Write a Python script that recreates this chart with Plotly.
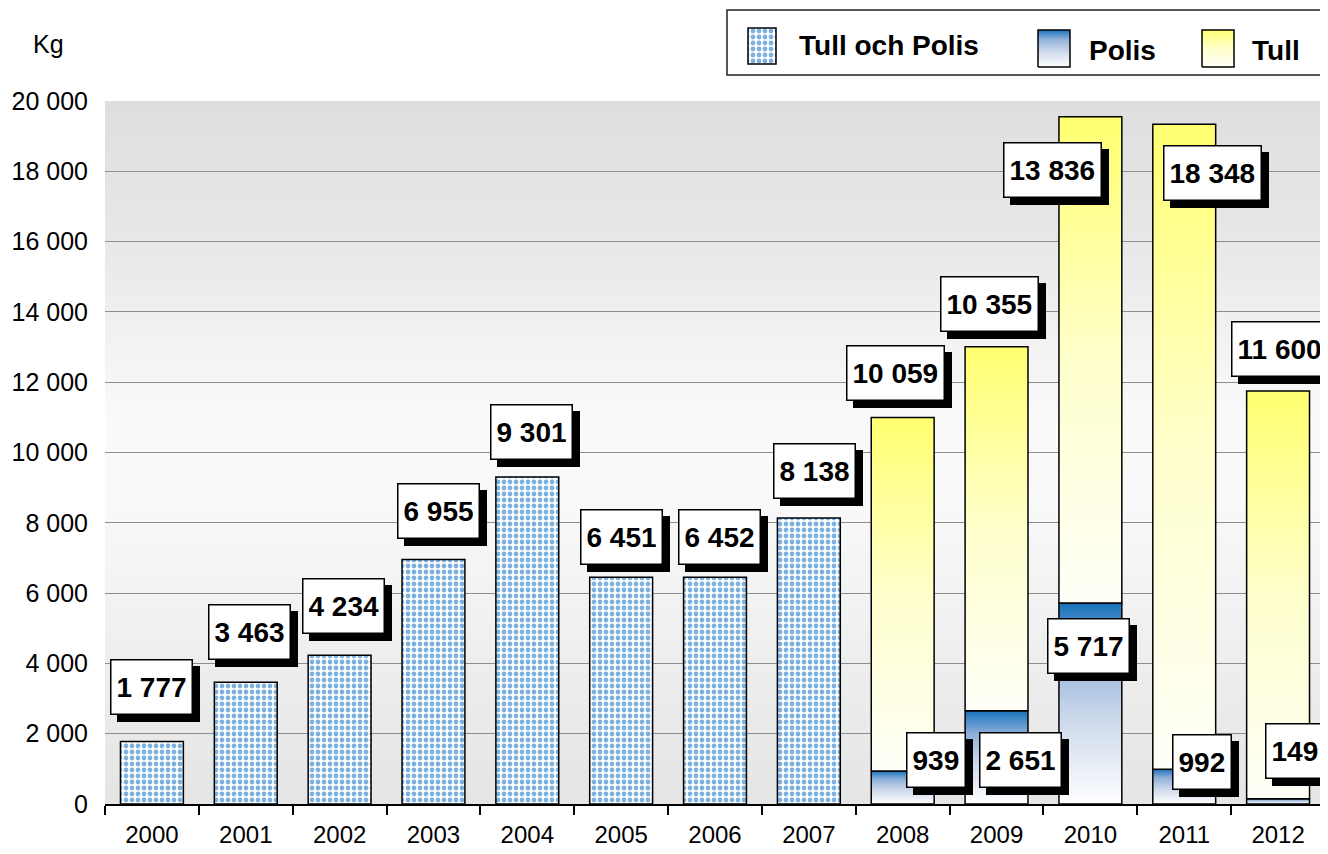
import base64, struct, zlib
import plotly.graph_objects as go

# ---------------- data ----------------
years = ["2000", "2001", "2002", "2003", "2004", "2005", "2006",
         "2007", "2008", "2009", "2010", "2011", "2012"]
tull_och_polis_years = ["2000", "2001", "2002", "2003", "2004", "2005", "2006", "2007"]
tull_och_polis = [1777, 3463, 4234, 6955, 9301, 6451, 6452, 8138]
split_years = ["2008", "2009", "2010", "2011", "2012"]
polis = [939, 2651, 5717, 992, 149]
tull = [10059, 10355, 13836, 18348, 11600]
y_ticks = [0, 2000, 4000, 6000, 8000, 10000, 12000, 14000, 16000, 18000, 20000]

# ---------------- style ----------------
W, H = 1328, 854
OFF = 8                     # page body margin compensation (px)
PL, PR, PT, PB = 105, 1325, 101, 804   # plot area in screen pixels
BAR_W = 0.67
FONT = "Liberation Sans, Arial, sans-serif"
DOT_BLUE = "#0064c0"
POLIS_SCALE = [[0, "#ffffff"], [0.45, "#c9d6ea"], [0.75, "#8fb0d9"], [0.9, "#4a8cca"], [1, "#1672b9"]]
TULL_SCALE = [[0, "#fffff8"], [0.5, "#ffffcc"], [1, "#ffff70"]]
# label offsets in px (dx, dy) relative to bar centre / top
off_top = [(0, 55), (4, 50), (4, 49), (5, 49), (4, 45), (0, 40), (4, 40), (6, 47)]
off_polis = [(33, 11), (24, -49), (-2, -43), (18, 7), (17, 48)]
off_tull = [(-7, 44), (-7, 43), (-38, -53), (28, -49), (1, 42)]

idx = {y: i for i, y in enumerate(years)}


def px(xp):
    return (xp - OFF) / W


def py(yp):
    return 1 - (yp - OFF) / H


def fmt(v):
    return f"{v:,}".replace(",", " ")


def make_png(stops, n=200):
    rows = []
    for r in range(n):
        f = r / (n - 1)
        g = stops[-1][1]
        for k in range(len(stops) - 1):
            f0, c0 = stops[k]
            f1, c1 = stops[k + 1]
            if f0 <= f <= f1:
                t = (f - f0) / (f1 - f0) if f1 > f0 else 0
                g = int(round(c0 + (c1 - c0) * t))
                break
        rows.append(bytes([0] + [g, g, g] * 2))
    raw = b"".join(rows)

    def chunk(tag, data):
        return (struct.pack(">I", len(data)) + tag + data +
                struct.pack(">I", zlib.crc32(tag + data) & 0xffffffff))

    png = (b"\x89PNG\r\n\x1a\n" +
           chunk(b"IHDR", struct.pack(">IIBBBBB", 2, n, 8, 2, 0, 0, 0)) +
           chunk(b"IDAT", zlib.compress(raw)) + chunk(b"IEND", b""))
    return "data:image/png;base64," + base64.b64encode(png).decode()


bg_src = make_png([(0, 222), (0.2, 232), (0.45, 250), (0.57, 249), (0.8, 238), (1.0, 229)])

fig = go.Figure()

pattern = dict(shape=".", fgcolor=DOT_BLUE, bgcolor="white", size=6, solidity=0.5)

# Tull och Polis bars
fig.add_trace(go.Bar(
    x=[idx[y] for y in tull_och_polis_years], y=tull_och_polis, width=BAR_W,
    marker=dict(color="white", line=dict(color="black", width=1.5), pattern=pattern),
    showlegend=False, hoverinfo="x+y", name="Tull och Polis"))


def rect_trace(xc, b, t, scale, xa="x", ya="y", w=BAR_W, name=""):
    x0, x1 = xc - w / 2, xc + w / 2
    return go.Scatter(
        x=[x0, x1, x1, x0, x0], y=[b, b, t, t, b], mode="lines", fill="toself",
        line=dict(color="black", width=1.5),
        fillgradient=dict(type="vertical", colorscale=scale, start=b, stop=t),
        xaxis=xa, yaxis=ya, showlegend=False, hoverinfo="skip", name=name)


for y, p, t in zip(split_years, polis, tull):
    i = idx[y]
    fig.add_trace(rect_trace(i, 0, p, POLIS_SCALE, name="Polis"))
    fig.add_trace(rect_trace(i, p, p + t, TULL_SCALE, name="Tull"))

annotations = []


def label(xc, yv, text, dx, dy):
    common = dict(x=xc, y=yv, xref="x", yref="y", xanchor="center", yanchor="middle",
                  showarrow=False, text="<b>" + text + "</b>",
                  font=dict(family=FONT, size=28, color="black"),
                  height=43, borderpad=5, borderwidth=1.5)
    annotations.append(dict(common, xshift=dx + 7, yshift=dy - 7,
                            bgcolor="black", bordercolor="black"))
    annotations.append(dict(common, xshift=dx, yshift=dy,
                            bgcolor="white", bordercolor="black"))


for y, v, (dx, dy) in zip(tull_och_polis_years, tull_och_polis, off_top):
    label(idx[y], v, fmt(v), dx, dy)
for y, p, (dx, dy) in zip(split_years, polis, off_polis):
    label(idx[y], p, fmt(p), dx, dy)
for y, p, t, (dx, dy) in zip(split_years, polis, tull, off_tull):
    label(idx[y], p + t, fmt(t), dx, dy)

# ---------------- custom legend (pixel coordinate subplot) ----------------
LX0, LY0, LY1 = 726, 10, 76
fig.add_trace(go.Bar(
    x=[762], y=[36], base=[-64], width=[28], xaxis="x2", yaxis="y2",
    marker=dict(color="white", line=dict(color="black", width=1.5), pattern=pattern),
    showlegend=False, hoverinfo="skip"))
fig.add_trace(rect_trace(1054, -67, -30, POLIS_SCALE, "x2", "y2", w=32))
fig.add_trace(rect_trace(1218, -67, -30, TULL_SCALE, "x2", "y2", w=32))
for txt, xx, yy in [("Tull och Polis", 797, -45), ("Polis", 1087, -50), ("Tull", 1250, -50)]:
    annotations.append(dict(x=xx, y=yy, xref="x2", yref="y2", xanchor="left",
                            yanchor="middle", showarrow=False, text="<b>" + txt + "</b>",
                            font=dict(family=FONT, size=28, color="black")))

annotations.append(dict(x=px(48), y=py(44), xref="paper", yref="paper",
                        xanchor="center", yanchor="middle", showarrow=False, text="Kg",
                        font=dict(family=FONT, size=25, color="black")))

shapes = [dict(type="rect", xref="paper", yref="paper", x0=px(LX0 + 1), x1=1.05,
               y0=py(75), y1=py(10), line=dict(color="#222222", width=1.5),
               fillcolor="rgba(0,0,0,0)", layer="above")]

fig.update_layout(
    width=W, height=H, autosize=False,
    margin=dict(l=0, r=0, t=0, b=0, pad=0),
    paper_bgcolor="white", plot_bgcolor="rgba(0,0,0,0)",
    separators=", ", showlegend=False, barmode="overlay",
    font=dict(family=FONT, size=24, color="black"),
    xaxis=dict(domain=[px(PL), px(PR)], range=[-0.5, 12.5], tickmode="array",
               tickvals=list(range(len(years))), ticktext=years, ticks="",
               showline=True, linecolor="black", linewidth=1.5, showgrid=False,
               zeroline=False, ticklabelstandoff=8, fixedrange=True, automargin=False,
               tickfont=dict(family=FONT, size=24, color="black"),
               minor=dict(tickmode="array", tickvals=[k - 0.5 for k in range(len(years) + 1)],
                          ticks="outside", ticklen=9, tickwidth=1.5, tickcolor="black",
                          showgrid=False)),
    yaxis=dict(domain=[py(PB), py(PT)], range=[0, 20000], tickmode="array",
               tickvals=y_ticks, tickformat=",d", ticks="", showline=False,
               showgrid=True, gridcolor="#8e8e8e", gridwidth=1, zeroline=False,
               ticklabelstandoff=16, fixedrange=True, automargin=False,
               tickfont=dict(family=FONT, size=25, color="black")),
    xaxis2=dict(domain=[px(LX0), 1], range=[LX0, LX0 + (1 - px(LX0)) * W], anchor="y2",
                visible=False, fixedrange=True, automargin=False),
    yaxis2=dict(domain=[py(LY1), py(LY0)], range=[-LY1, -LY0], anchor="x2",
                visible=False, fixedrange=True, automargin=False),
    images=[dict(source=bg_src, xref="x", yref="y", x=-0.5, y=20000, sizex=13,
                 sizey=20000, sizing="stretch", layer="below", xanchor="left",
                 yanchor="top")],
    annotations=annotations, shapes=shapes,
)

fig.write_html("out.html")
